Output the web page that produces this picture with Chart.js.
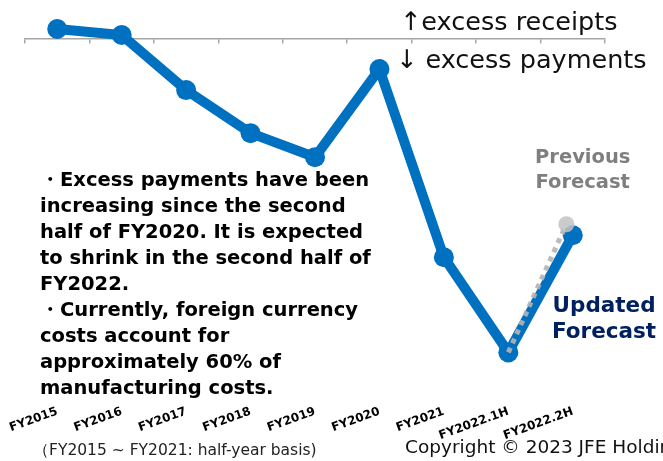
<!DOCTYPE html>
<html>
<head>
<meta charset="utf-8">
<script src="https://cdn.jsdelivr.net/npm/chart.js@4.4.0/dist/chart.umd.min.js"></script>
<style>
  html, body { margin: 0; padding: 0; background: #fff; overflow: hidden; }
  #wrap { position: relative; width: 663px; height: 461px; overflow: hidden; }
  .note { position: absolute; white-space: nowrap; font-family: 'DejaVu Sans'; }
</style>
</head>
<body>
<div id="wrap">
  <canvas id="myChart" width="663" height="461"></canvas>
  <div class="note" style="left:400px;top:6px;font-size:25.5px;color:#111;">↑excess receipts</div>
  <div class="note" style="left:396px;top:44px;font-size:25.5px;color:#111;">↓ excess payments</div>
  <div class="note" style="left:40px;top:167px;font-weight:bold;font-size:19.5px;line-height:26px;color:#000;">・Excess payments have been<br>increasing since the second<br>half of FY2020. It is expected<br>to shrink in the second half of<br>FY2022.<br>・Currently, foreign currency<br>costs account for<br>approximately 60% of<br>manufacturing costs.</div>
  <div class="note" style="left:535px;top:144px;font-weight:bold;font-size:19.5px;line-height:25px;color:#7f7f7f;text-align:center;">Previous<br>Forecast</div>
  <div class="note" style="left:552px;top:292px;font-weight:bold;font-size:21.5px;line-height:26px;color:#002060;text-align:center;">Updated<br>Forecast</div>
  <div class="note" style="left:33px;top:440px;font-size:15.5px;color:#222;">（FY2015 ~ FY2021: half-year basis)</div>
  <div class="note" style="left:405px;top:436px;font-size:18.5px;color:#111;">Copyright © 2023 JFE Holdings</div>
</div>
<script>
var labels = ['FY2015', 'FY2016', 'FY2017', 'FY2018', 'FY2019', 'FY2020', 'FY2021', 'FY2022.1H', 'FY2022.2H'];
var updated = [0.95, 0.35, -5.15, -9.45, -11.85, -3.05, -21.85, -31.35, -19.65];
var previousX = [7, 7.9];
var previousY = [-31.35, -18.55];

var ctx = document.getElementById('myChart').getContext('2d');
var chart = new Chart(ctx, {
    type: 'line',
    data: {
        labels: labels,
        datasets: [{
            xAxisID: 'xg',
            data: previousX.map(function (x, i) { return {x: x, y: previousY[i]}; }),
            borderColor: 'rgba(180,180,180,0.9)',
            borderWidth: 5,
            borderDash: [5, 5],
            pointRadius: [0, 8],
            pointBackgroundColor: 'rgba(195,195,195,0.85)',
            pointBorderWidth: 0
        }, {
            data: updated,
            borderColor: '#0070c0',
            borderWidth: 10,
            pointRadius: 10,
            pointBackgroundColor: '#0070c0',
            pointBorderWidth: 0
        }]
    },
    options: {
        responsive: false,
        animation: false,
        layout: { padding: { left: 25, right: 58, top: 6, bottom: 14 } },
        plugins: { legend: { display: false }, tooltip: { enabled: false } },
        scales: {
            x: {
                offset: true,
                grid: { display: false },
                border: { display: false },
                ticks: {
                    autoSkip: false, minRotation: 20, maxRotation: 20, padding: 4,
                    color: '#000', font: { family: 'DejaVu Sans', size: 12, weight: 'bold' }
                }
            },
            // zero line with the small category ticks hanging below it
            x0: {
                type: 'category',
                position: { y: 0 },
                offset: true,
                grid: { offset: true, drawOnChartArea: false, tickLength: 4, color: '#a6a6a6', lineWidth: 1.5 },
                border: { color: '#a6a6a6', width: 1.5 },
                ticks: { display: false }
            },
            xg: { type: 'linear', display: false, min: -0.5, max: 8.5 },
            y: { display: false, min: -35.35, max: 2.85 }
        }
    }
});
</script>
</body>
</html>
